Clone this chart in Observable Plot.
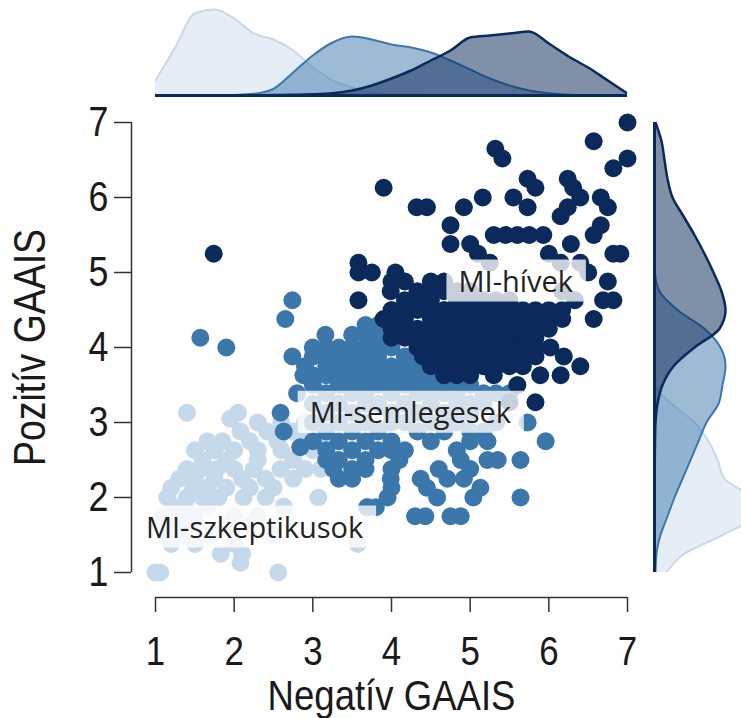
<!DOCTYPE html>
<html><head><meta charset="utf-8">
<script src="https://cdn.jsdelivr.net/npm/d3@7"></script>
<script src="https://cdn.jsdelivr.net/npm/@observablehq/plot@0.6"></script>
<style>
body{margin:0;background:#fff;}
#root{position:relative;width:741px;height:718px;overflow:hidden;background:#fff;}
#root > svg{position:absolute;top:0;}
</style></head><body><div id="root"></div>
<script>
// ---- data (rows: [y, [x values]]) ----
const skepticRows = [
 [3.13,[1.4,2.05]],[3.05,[1.95]],[3.0,[2.3,2.6,2.9]],[2.88,[2.08,2.42,2.75,3.1]],
 [2.75,[1.66,1.85,2.2,2.55,2.9,3.2]],[2.63,[1.5,1.75,2.0,2.3,2.6,3.0]],
 [2.5,[1.6,1.9,2.3,2.75,3.3]],[2.38,[1.4,1.57,1.78,2.0,2.25,2.59,2.9,3.1]],
 [2.25,[1.3,1.5,1.75,2.1,2.4,2.75]],[2.13,[1.2,1.48,1.66,1.9,2.2,2.5]],
 [2.0,[1.15,1.4,1.6,1.8,2.12,2.4,3.07]],[1.88,[1.23,1.37,1.66,2.63,3.7]],
 [1.75,[1.1,1.3,1.5,2.0,2.3]],[1.63,[1.06,1.25,1.45,1.9,2.2]],
 [1.5,[1.15,1.35,1.7,2.5]],[1.38,[1.2,1.5,2.0,3.57]],[1.25,[1.83,2.1]],
 [1.13,[2.08]],[1.0,[1.0,1.06,2.56]]
];
const neutralRows = [
 [4.63,[2.74]],[4.38,[2.65]],[4.3,[3.67,3.83]],[4.17,[3.16,3.5,3.67,3.83,4.0]],[4.13,[1.57]],
 [4.0,[1.9,3.0,3.17,3.33,3.5,3.67,3.83,4.0]],
 [3.88,[2.74,3.0,3.17,3.33,3.5,3.67,3.83,4.17,4.33]],
 [3.75,[2.9,3.17,3.33,3.5,3.67,3.83,4.0,4.17,4.33]],
 [3.63,[2.88,3.0,3.17,3.33,3.5,3.67,3.83,4.0,4.17,4.33,4.5,4.67]],
 [3.5,[3.0,3.33,3.5,3.67,3.83,4.0,4.17,4.33,4.5,4.67,4.83,5.0]],
 [3.39,[2.8,3.17,3.5,3.67,4.0,4.33,4.5,4.67,4.83,5.17,5.33,5.5]],
 [3.25,[3.0,3.33,3.67,3.83,4.17,4.5,4.83,5.0,5.17]],
 [3.13,[2.59,3.17,3.5,4.0,4.33,4.67,5.0]],
 [3.0,[3.0,3.33,3.67,4.0,4.17,4.5,4.83,5.33,5.73]],
 [2.88,[2.63,3.17,3.5,3.83,4.33,4.67,5.0,5.17]],
 [2.75,[3.0,3.33,3.67,4.0,4.5,5.0,5.22,5.96]],
 [2.67,[2.84]],
 [2.63,[3.17,3.5,3.83,4.0,4.17,4.83]],
 [2.5,[3.17,3.33,3.67,4.1,4.88,5.22,5.35,5.64]],
 [2.38,[3.26,3.5,3.67,4.0,4.6,5.0]],
 [2.25,[3.33,3.5,3.99,4.37,4.71,4.92]],
 [2.13,[4.0,4.45,5.13]],[2.0,[3.95,4.58,5.04,5.64]],[1.87,[3.69,3.8]],
 [1.75,[4.3,4.43,4.75,4.88]]
];
const believerRows = [
 [7.0,[7.0]],[6.75,[6.57]],[6.65,[5.32]],[6.52,[5.41,7.0]],[6.39,[6.82]],
 [6.25,[5.73,6.24]],[6.13,[3.9,5.83,6.31]],[6.0,[5.16,5.55,6.4,6.66]],
 [5.87,[4.32,4.45,4.92,5.73,6.24,6.75]],[5.75,[6.15]],[5.63,[4.75,6.66]],
 [5.5,[5.3,5.45,5.6,5.75,5.93,6.57]],[5.38,[4.75,5.0,6.28]],
 [5.25,[1.74,5.1,6.0,6.82,6.91]],[5.13,[3.58,5.25,6.15,6.4]],
 [5.0,[3.58,3.75,4.05,6.5]],[4.88,[4.0,4.17,4.5,4.67,6.75]],
 [4.75,[3.99,4.33,4.5,4.67,4.83,5.0,6.17]],
 [4.63,[3.58,4.17,4.33,4.5,4.83,5.0,5.17,5.33,5.5,6.33,6.69,6.82]],
 [4.5,[4.0,4.17,4.33,4.5,4.67,4.83,5.0,5.17,5.33,5.5,5.67,5.83,6.0,6.17]],
 [4.38,[3.9,4.0,4.17,4.5,4.67,4.83,5.0,5.17,5.33,5.5,5.67,5.83,6.0,6.17,6.57]],
 [4.25,[4.0,4.17,4.33,4.5,4.67,4.83,5.0,5.17,5.33,5.5,5.67,5.83,6.0]],
 [4.13,[4.0,4.17,4.33,4.5,4.67,4.83,5.0,5.17,5.33,5.5,5.67,5.83]],
 [4.0,[4.33,4.5,4.67,4.83,5.0,5.17,5.33,5.5,5.67,5.83,6.02]],
 [3.88,[4.4,4.5,4.67,4.83,5.0,5.17,5.33,5.5,5.67,5.83,6.19]],
 [3.75,[4.5,4.67,4.83,5.0,5.17,5.33,5.5,5.67,6.4]],
 [3.63,[4.67,4.83,5.0,5.3,5.89,6.15]],[3.5,[5.6]],[3.27,[5.5,5.83]]
];
// marginal density curves
const densGrid = [1,1.25,1.5,1.75,2,2.25,2.5,2.75,3,3.25,3.5,3.75,4,4.25,4.5,4.75,5,5.25,5.5,5.75,6,6.25,6.5,6.75,7];
const topSkeptics  = [0.15,0.48,0.82,0.86,0.77,0.62,0.56,0.45,0.28,0.15,0.08,0.03,0.015,0.008,0.004,0.002,0.001,0,0,0,0,0,0,0,0];
const topNeutrals  = [0,0,0,0,0.005,0.017,0.067,0.23,0.40,0.53,0.59,0.56,0.51,0.48,0.43,0.35,0.26,0.17,0.10,0.05,0.023,0.007,0.003,0.001,0];
const topBelievers = [0.001,0.001,0.001,0.001,0.001,0.002,0.004,0.007,0.012,0.023,0.05,0.10,0.17,0.25,0.35,0.45,0.58,0.60,0.62,0.64,0.52,0.39,0.28,0.15,0.02];
const rightSkeptics  = [0.12,0.30,0.68,0.98,0.95,0.70,0.63,0.54,0.40,0.17,0.01,0.005,0.002,0,0,0,0,0,0,0,0,0,0,0,0];
const rightNeutrals  = [0.01,0.02,0.06,0.13,0.20,0.28,0.36,0.44,0.52,0.64,0.68,0.71,0.66,0.50,0.23,0.05,0.005,0.001,0,0,0,0,0,0,0];
const rightBelievers = [0,0,0,0,0.001,0.002,0.003,0.005,0.01,0.03,0.08,0.19,0.40,0.65,0.71,0.67,0.59,0.50,0.40,0.29,0.18,0.13,0.10,0.07,0.01];
const axisTicks = [1,2,3,4,5,6,7];
const groupLabels = ["MI-szkeptikusok","MI-semlegesek","MI-hívek"];
const labelX = [2.26, 4.24, 5.58];
const labelY = [1.59, 3.12, 4.87];
const colors = ["#c6d9ea","#3b77ab","#0b2a5b"];

// ---- build tables ----
const toPts = rows => rows.flatMap(([y, xs]) => xs.map(x => ({x, y})));
const skeptics = toPts(skepticRows), neutrals = toPts(neutralRows), believers = toPts(believerRows);
const dens = densGrid.map((v,i) => ({v, ts: topSkeptics[i], tn: topNeutrals[i], tb: topBelievers[i],
  rs: rightSkeptics[i], rn: rightNeutrals[i], rb: rightBelievers[i]}));

const axisFont = "'Liberation Sans',Arial,sans-serif";
const rootEl = document.getElementById("root");

// ---- main scatter ----
const mainPlot = Plot.plot({
  width: 741, height: 718,
  marginLeft: 155, marginRight: 114, marginTop: 122, marginBottom: 146,
  x: {domain: [1, 7]}, y: {domain: [1, 7]},
  style: {fontFamily: axisFont, fontSize: "41px", color: "#1a1a1a", background: "transparent", overflow: "visible"},
  marks: [
    Plot.dot(skeptics, {x: "x", y: "y", r: 9, fill: colors[0]}),
    Plot.dot(neutrals, {x: "x", y: "y", r: 9, fill: colors[1]}),
    Plot.dot(believers, {x: "x", y: "y", r: 9, fill: colors[2]}),
    Plot.ruleY([axisTicks[0]], {x1: axisTicks[0], x2: axisTicks[axisTicks.length-1], dy: 25, stroke: "#333", strokeWidth: 1.5}),
    Plot.ruleX([axisTicks[0]], {y1: axisTicks[0], y2: axisTicks[axisTicks.length-1], dx: -24, stroke: "#333", strokeWidth: 1.5}),
    Plot.axisX(axisTicks, {tickSize: 15, dy: 25, tickPadding: 23, stroke: "#333", strokeWidth: 1.5, label: null, fontSize: 41, tickFormat: d => String(d)}),
    Plot.axisY(axisTicks, {tickSize: 17, dx: -24, tickPadding: 6, stroke: "#333", strokeWidth: 1.5, label: null, fontSize: 42, tickFormat: d => String(d)}),
    Plot.text(["Negatív GAAIS"], {frameAnchor: "bottom", lineAnchor: "middle", dy: 124, fontSize: 43, fill: "#1a1a1a"}),
    Plot.text(["Pozitív GAAIS"], {frameAnchor: "left", textAnchor: "middle", lineAnchor: "middle", rotate: -90, dx: -125, fontSize: 44, fill: "#1a1a1a"}),
    Plot.text(groupLabels, {x: (d, i) => labelX[i], y: (d, i) => labelY[i], text: d => d,
      fontSize: 29, fontFamily: "'Open Sans',sans-serif", fill: "#222"})
  ]
});
mainPlot.style.left = "0px";
rootEl.appendChild(mainPlot);

mainPlot.querySelectorAll("text").forEach(t => {
  if (groupLabels.includes(t.textContent)) {
    // boxes behind the group labels
    const bb = t.getBBox();
    const r = document.createElementNS("http://www.w3.org/2000/svg", "rect");
    r.setAttribute("x", bb.x - 12); r.setAttribute("y", bb.y - 1);
    r.setAttribute("width", bb.width + 24); r.setAttribute("height", bb.height + 3);
    r.setAttribute("fill", "#fff"); r.setAttribute("fill-opacity", "0.78");
    if (t.getAttribute("transform")) r.setAttribute("transform", t.getAttribute("transform"));
    t.parentNode.insertBefore(r, t);
  } else {
    // narrow the axis font
    const w = t.getComputedTextLength();
    t.setAttribute("textLength", (w * 0.85).toFixed(1));
    t.setAttribute("lengthAdjust", "spacingAndGlyphs");
  }
});

// ---- top marginal ----
const topPlot = Plot.plot({
  width: 741, height: 100, marginLeft: 155, marginRight: 114, marginTop: 5, marginBottom: 5,
  x: {domain: [1, 7], axis: null}, y: {domain: [0, 0.9], axis: null},
  style: {background: "transparent"},
  marks: [
    Plot.areaY(dens, {x: "v", y: "ts", fill: colors[0], fillOpacity: 0.45, curve: "monotone-x", clip: true}),
    Plot.lineY(dens, {x: "v", y: "ts", stroke: colors[0], strokeWidth: 2, curve: "monotone-x", clip: true}),
    Plot.areaY(dens, {x: "v", y: "tn", fill: colors[1], fillOpacity: 0.5, curve: "monotone-x", clip: true}),
    Plot.lineY(dens, {x: "v", y: "tn", stroke: colors[1], strokeWidth: 2, curve: "monotone-x", clip: true}),
    Plot.areaY(dens, {x: "v", y: "tb", fill: colors[2], fillOpacity: 0.52, curve: "monotone-x", clip: true}),
    Plot.lineY(dens, {x: "v", y: "tb", stroke: colors[2], strokeWidth: 2.5, curve: "monotone-x", clip: true}),
    Plot.ruleY([0], {x1: densGrid[0], x2: densGrid[densGrid.length-1], stroke: colors[2], strokeWidth: 3})
  ]
});
topPlot.style.left = "0px";
rootEl.appendChild(topPlot);

// ---- right marginal ----
const rightPlot = Plot.plot({
  width: 111, height: 718, marginLeft: 24, marginRight: 0, marginTop: 122, marginBottom: 146,
  y: {domain: [1, 7], axis: null}, x: {domain: [0, 0.87], axis: null},
  style: {background: "transparent"},
  marks: [
    Plot.areaX(dens, {y: "v", x: "rs", fill: colors[0], fillOpacity: 0.45, curve: "monotone-y", clip: true}),
    Plot.lineX(dens, {y: "v", x: "rs", stroke: colors[0], strokeWidth: 2, curve: "monotone-y", clip: true}),
    Plot.areaX(dens, {y: "v", x: "rn", fill: colors[1], fillOpacity: 0.5, curve: "monotone-y", clip: true}),
    Plot.lineX(dens, {y: "v", x: "rn", stroke: colors[1], strokeWidth: 2, curve: "monotone-y", clip: true}),
    Plot.areaX(dens, {y: "v", x: "rb", fill: colors[2], fillOpacity: 0.52, curve: "monotone-y", clip: true}),
    Plot.lineX(dens, {y: "v", x: "rb", stroke: colors[2], strokeWidth: 2.5, curve: "monotone-y", clip: true}),
    Plot.ruleX([0], {y1: densGrid[0], y2: densGrid[densGrid.length-1], stroke: colors[2], strokeWidth: 3})
  ]
});
rightPlot.style.left = "630px";
rootEl.appendChild(rightPlot);
</script></body></html>
